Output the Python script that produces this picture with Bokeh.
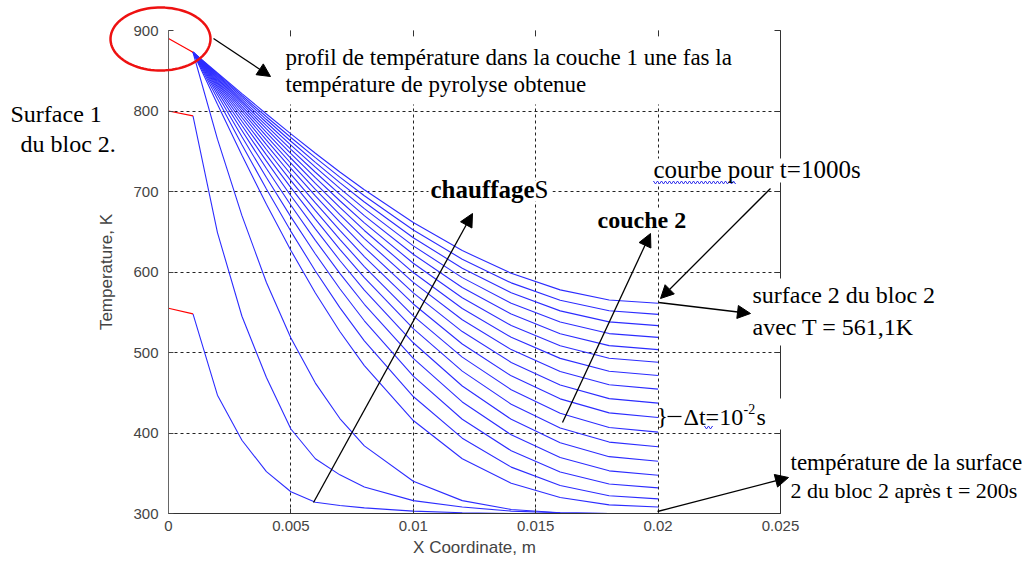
import numpy as np
from bokeh.plotting import figure
from bokeh.layouts import column
from bokeh.models import (Range1d, FixedTicker, LinearAxis, Label, Arrow, NormalHead,
                          PolyAnnotation, BoxAnnotation)
from bokeh.embed import file_html
from bokeh.resources import INLINE

# ---------------- data ----------------
x_layer1 = [0.0, 0.001]                 # layer 1 (red part)
layer1_t50 = [555, 548]
layer1_t100 = [800, 794]
layer1_pyro = [890, 873]                # all later curves share this part

x_nodes = [0.001, 0.002, 0.003, 0.004, 0.005, 0.006, 0.007, 0.008,
           0.010, 0.012, 0.014, 0.016, 0.018, 0.020]
times = [50, 100, 150, 200, 250, 300, 350, 400, 450, 500,
         550, 600, 650, 700, 750, 800, 850, 900, 950, 1000]
T_profiles = [
    [548, 447, 391, 352, 327, 314, 310, 307, 303, 301, 300, 300, 300, 300],
    [794, 649, 545, 469, 405, 368, 348, 333, 316, 308, 303, 301, 300, 300],
    [873, 765, 670, 587, 518, 462, 418, 384, 340, 316, 305, 301, 300, 300],
    [873, 808.4, 745.0, 684.1, 626.8, 573.9, 526.1, 483.7, 415.5, 368.0, 337.5, 319.8, 310.7, 308.0],
    [873, 815.1, 758.2, 703.1, 650.5, 601.3, 555.8, 514.5, 445.3, 393.6, 357.6, 334.7, 322.1, 318.2],
    [873, 820.2, 768.0, 717.3, 668.5, 622.4, 579.2, 539.4, 470.7, 417.1, 377.9, 351.6, 336.6, 331.8],
    [873, 824.1, 775.7, 728.5, 682.9, 639.3, 598.3, 559.9, 492.7, 438.6, 397.7, 369.5, 353.0, 347.6],
    [873, 827.3, 782.0, 737.7, 694.7, 653.5, 614.3, 577.5, 512.1, 458.4, 417.0, 387.9, 370.6, 364.9],
    [873, 830.0, 787.3, 745.5, 704.8, 665.6, 628.2, 592.9, 529.6, 476.9, 435.7, 406.3, 388.7, 382.9],
    [873, 832.3, 791.9, 752.2, 713.6, 676.2, 640.6, 606.7, 545.5, 494.3, 453.7, 424.5, 406.9, 401.1],
    [873, 834.3, 796.0, 758.2, 721.4, 685.8, 651.7, 619.2, 560.3, 510.6, 471.0, 442.4, 425.0, 419.2],
    [873, 836.2, 799.7, 763.7, 728.6, 694.5, 661.9, 630.7, 574.1, 526.0, 487.6, 459.7, 442.7, 437.1],
    [873, 837.9, 803.0, 768.7, 735.1, 702.6, 671.3, 641.5, 587.1, 540.7, 503.6, 476.5, 460.0, 454.5],
    [873, 839.5, 806.2, 773.4, 741.3, 710.1, 680.2, 651.6, 599.3, 554.7, 518.9, 492.7, 476.8, 471.4],
    [873, 840.9, 809.1, 777.7, 747.0, 717.2, 688.5, 661.1, 610.9, 568.1, 533.6, 508.3, 492.9, 487.8],
    [873, 842.3, 811.8, 781.8, 752.4, 723.9, 696.4, 670.1, 622.0, 580.8, 547.7, 523.4, 508.5, 503.6],
    [873, 843.6, 814.5, 785.7, 757.6, 730.2, 703.9, 678.7, 632.5, 593.0, 561.2, 537.8, 523.5, 518.8],
    [873, 844.9, 816.9, 789.4, 762.4, 736.2, 711.0, 686.9, 642.6, 604.7, 574.1, 551.7, 538.0, 533.4],
    [873, 846.1, 819.3, 792.9, 767.1, 742.0, 717.8, 694.7, 652.2, 615.9, 586.5, 565.0, 551.8, 547.4],
    [873, 847.2, 821.6, 796.3, 771.5, 747.5, 724.3, 702.1, 661.5, 626.6, 598.4, 577.8, 565.2, 561.1],
]

x_ticks = [0, 0.005, 0.01, 0.015, 0.02, 0.025]
x_tick_labels = ["0", "0.005", "0.01", "0.015", "0.02", "0.025"]
y_ticks = [300, 400, 500, 600, 700, 800, 900]

# ---------------- layout ----------------
W, H = 1022, 562
FX0, FX1, FY0, FY1 = 168, 780, 513, 30     # frame edges in page pixels
SERIF = "Liberation Serif"
SANS = "Liberation Sans"

p = figure(width=W, height=H, x_range=Range1d(0, 0.025), y_range=Range1d(300, 900),
           output_backend="svg", toolbar_location=None,
           min_border_left=FX0, min_border_right=W - FX1, min_border_top=FY1,
           min_border_bottom=H - FY0,
           background_fill_color="white", border_fill_color="white", outline_line_color=None)
p.frame_align = False

xt = FixedTicker(ticks=x_ticks)
yt = FixedTicker(ticks=y_ticks)
p.xaxis.ticker = xt
p.yaxis.ticker = yt
p.xgrid.ticker = xt
p.ygrid.ticker = yt
p.xaxis.major_label_overrides = dict(zip(x_ticks, x_tick_labels))

for ax in (p.xaxis, p.yaxis):
    ax.major_tick_in = 5
    ax.major_tick_out = 0
    ax.minor_tick_line_color = None
    ax.major_label_text_font = SANS
    ax.major_label_text_font_size = "15px"
    ax.major_label_text_color = "#444444"
    ax.axis_label_text_font = SANS
    ax.axis_label_text_font_size = "17px"
    ax.axis_label_text_font_style = "normal"
    ax.axis_label_text_color = "#444444"
p.xaxis.major_label_standoff = 7
p.xaxis.axis_label = "X Coordinate, m"
p.xaxis.axis_label_standoff = 4
p.xaxis.axis_line_color = "#333333"
p.xaxis.major_tick_line_color = "#333333"
p.yaxis.major_label_standoff = 10
p.yaxis.axis_line_color = "#666666"
p.yaxis.major_tick_line_color = "#444444"
p.yaxis.axis_label = "Temperature, K"
p.yaxis.axis_label_standoff = 14

r_axis = LinearAxis(ticker=yt, major_label_text_font_size="0px", major_label_text_color=None,
                    major_label_standoff=0, major_tick_in=6, major_tick_out=0,
                    minor_tick_line_color=None,
                    axis_line_color="#333333", major_tick_line_color="#333333")
p.add_layout(r_axis, "right")
t_axis = LinearAxis(ticker=xt, major_label_text_font_size="0px", major_label_text_color=None,
                    major_label_standoff=0, major_tick_in=6, major_tick_out=0,
                    minor_tick_line_color=None,
                    axis_line_color=None, major_tick_line_color="#333333")
p.add_layout(t_axis, "above")

p.grid.grid_line_color = "#222222"
p.grid.grid_line_dash = "3 3"
p.grid.grid_line_width = 1

BLUE = "#2c2cff"
for T in T_profiles:
    p.line(x_nodes, T, line_color=BLUE, line_width=1.1)
for seg in (layer1_t50, layer1_t100, layer1_pyro):
    p.line(x_layer1, seg, line_color="#ff0000", line_width=1.2)

# ---------------- transparent overlay for the annotations (page pixels) ----------------
ov = figure(width=W, height=H, x_range=Range1d(0, W), y_range=Range1d(H, 0),
            output_backend="svg", toolbar_location=None, x_axis_type=None, y_axis_type=None,
            min_border=0, outline_line_color=None,
            background_fill_alpha=0, border_fill_alpha=0)
ov.frame_align = False
ov.xgrid.visible = False
ov.ygrid.visible = False
ov.margin = (-H, 0, 0, 0)

# white text boxes that hide the grid / frame behind the texts
boxes = [(262, 752, 36, 104), (650, 866, 158, 182), (745, 945, 278, 345),
         (681, 785, 398, 429), (595, 690, 208, 230), (428, 552, 180, 201)]
for l, r, t, b in boxes:
    ov.add_layout(BoxAnnotation(left=l, right=r, top=t, bottom=b,
                                fill_color="white", fill_alpha=1, line_color=None))

# red ellipse around the layer-1 profile
ang = np.linspace(0, 2 * np.pi, 90)
ov.add_layout(PolyAnnotation(xs=list(160 + 50 * np.cos(ang)), ys=list(38.5 + 31.5 * np.sin(ang)),
                             fill_alpha=0, line_color="#ee1111", line_alpha=1, line_width=2.5))


# blue spell-check wavy underlines (drawn forward and back so the closed path stays a line)
def wavy(x0, x1, y):
    xs = np.arange(x0, x1 + 0.1, 2.0)
    ys = y + 1.3 * np.where((np.arange(len(xs)) % 2) == 0, -1, 1)
    return list(xs) + list(xs[::-1]), list(ys) + list(ys[::-1])


for (wx0, wx1, wy) in [(653, 735, 182), (704, 712, 427)]:
    wxs, wys = wavy(wx0, wx1, wy)
    ov.add_layout(PolyAnnotation(xs=wxs, ys=wys, fill_alpha=0, line_color="#3a3aee",
                                 line_alpha=1, line_width=1))

arrows = [((213, 38), (270, 76)), ((313, 502), (472, 213)), ((562, 422), (650, 233)),
          ((770, 188), (660, 298)), ((658, 302), (750, 313)), ((657, 511), (788, 477))]
for (x0, y0), (x1, y1) in arrows:
    ov.add_layout(Arrow(end=NormalHead(size=13, fill_color="black", line_color="black", line_width=1),
                        x_start=x0, y_start=y0, x_end=x1, y_end=y1,
                        line_color="black", line_width=1.3))
ov.add_layout(Arrow(end=None, x_start=667, y_start=416, x_end=681, y_end=416,
                    line_color="black", line_width=1.2))

texts = [
    ("profil de température dans la couche 1 une fas la", 285, 57, "23px", "normal"),
    ("température de pyrolyse obtenue", 285, 84, "23px", "normal"),
    ("Surface 1", 10, 113, "24px", "normal"),
    ("du bloc 2.", 20, 143, "24px", "normal"),
    ("chauffage", 430, 189, "25px", "bold"),
    ("S", 534, 189, "25px", "normal"),
    ("couche 2", 597, 219, "24px", "bold"),
    ("courbe pour t=1000s", 653, 169, "25px", "normal"),
    ("surface 2 du bloc 2", 752, 294, "24px", "normal"),
    ("avec T = 561,1K", 752, 326, "24px", "normal"),
    ("}", 656, 415, "24px", "normal"),
    ("Δt=10", 683, 416, "24px", "normal"),
    ("-2", 743, 408, "14px", "normal"),
    ("s", 756, 416, "24px", "normal"),
    ("température de la surface", 790, 462, "23px", "normal"),
    ("2 du bloc 2 après t = 200s", 790, 490, "22px", "normal"),
]
for txt, x, y, size, style in texts:
    ov.add_layout(Label(x=x, y=y, text=txt, text_font=SERIF, text_font_size=size,
                        text_font_style=style, text_color="black",
                        text_align="left", text_baseline="middle"))

open("out.html", "w").write(file_html(column(p, ov), INLINE))
